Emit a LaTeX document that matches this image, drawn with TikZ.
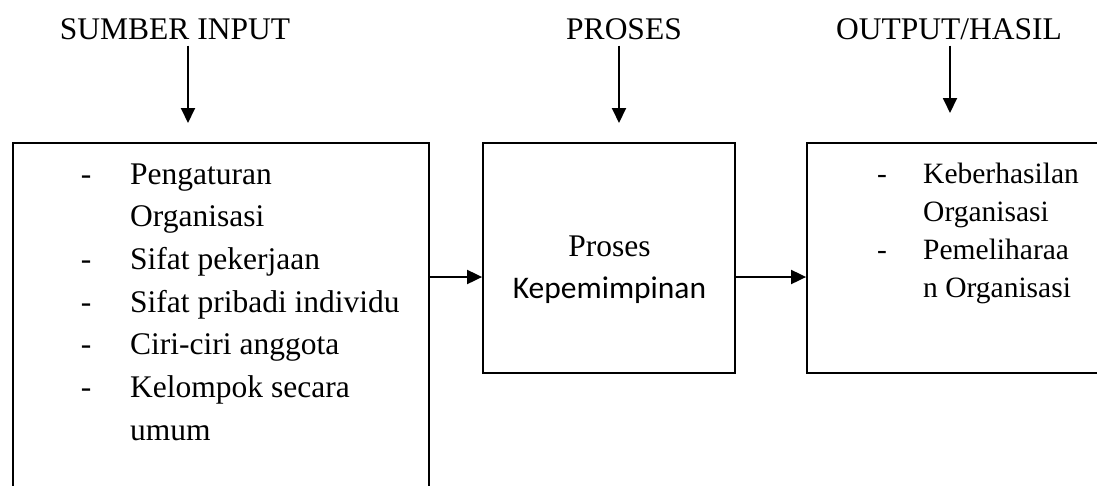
\documentclass[tikz,border=0pt]{standalone}
\usepackage{fontspec}
\setmainfont{Liberation Serif}
\newfontfamily\calibri{Carlito}
\usetikzlibrary{arrows.meta}
\begin{document}
\begin{tikzpicture}[x=1pt,y=-1pt,
  lbl/.style={inner sep=0pt, anchor=base, font=\fontsize{31.5}{38}\selectfont},
  itm/.style={inner sep=0pt, anchor=base west, font=\fontsize{31.5}{38}\selectfont},
  dsh/.style={inner sep=0pt, anchor=base, font=\fontsize{31.5}{38}\selectfont},
  ritm/.style={inner sep=0pt, anchor=base west, font=\fontsize{29.5}{36}\selectfont},
  rdsh/.style={inner sep=0pt, anchor=base, font=\fontsize{29.5}{36}\selectfont},
  boxn/.style={draw, line width=1.8pt, inner sep=0pt},
  arr/.style={line width=1.9pt, -{Triangle[length=15pt,width=14pt]}}]
  \useasboundingbox (0,0) rectangle (1097,485);
  \clip (0,0) rectangle (1097,485);
  % boxes
  \node[boxn, minimum width=416pt, minimum height=360pt] (inbox) at (221,323) {};
  \node[boxn, minimum width=252pt, minimum height=230pt] (mid) at (609,258) {};
  \node[boxn, minimum width=303pt, minimum height=230pt] (out) at (958.5,258) {};
  % titles
  \node[lbl] (tin) at (175,39) {SUMBER INPUT};
  \node[lbl] (tpr) at (624,39) {PROSES};
  \node[lbl] (tout) at (949,39) {OUTPUT/HASIL};
  % vertical arrows
  \coordinate (ain) at (188,123);
  \coordinate (apr) at (619,123);
  \coordinate (aout) at (950,113);
  \draw[arr] ([yshift=-6pt]tin.south -| ain) -- (ain);
  \draw[arr] ([yshift=-6pt]tpr.south -| apr) -- (apr);
  \draw[arr] ([yshift=-6pt]tout.south -| aout) -- (aout);
  % horizontal arrows
  \coordinate (hy) at (0,277);
  \draw[arr] (inbox.east |- hy) -- (mid.west |- hy);
  \draw[arr] (mid.east |- hy) -- (out.west |- hy);
  % left box items
  \node[dsh] (d1) at (86,184) {-};
  \node[itm] (i1) at (130,184) {Pengaturan};
  \node[itm] (i1b) at (130,226.7) {Organisasi};
  \node[dsh] (d2) at (86,269.4) {-};
  \node[itm] (i2) at (130,269.4) {Sifat pekerjaan};
  \node[dsh] (d3) at (86,312.1) {-};
  \node[itm] (i3) at (130,312.1) {Sifat pribadi individu};
  \node[dsh] (d4) at (86,354.8) {-};
  \node[itm] (i4) at (130,354.8) {Ciri-ciri anggota};
  \node[dsh] (d5) at (86,397.5) {-};
  \node[itm] (i5) at (130,397.5) {Kelompok secara};
  \node[itm] (i5b) at (130,440.2) {umum};
  % middle box text
  \node[lbl] (p1) at (609.5,256) {Proses};
  \node[lbl, font=\calibri\fontsize{31.5}{38}\selectfont] (p2) at (609.5,298) {Kepemimpinan};
  % right box items
  \node[rdsh] (r1d) at (882,183) {-};
  \node[ritm] (r1) at (923,183) {Keberhasilan};
  \node[ritm] (r1b) at (923,221) {Organisasi};
  \node[rdsh] (r2d) at (882,259) {-};
  \node[ritm] (r2) at (923,259) {Pemeliharaa};
  \node[ritm] (r2b) at (923,297) {n Organisasi};
\end{tikzpicture}
\end{document}
